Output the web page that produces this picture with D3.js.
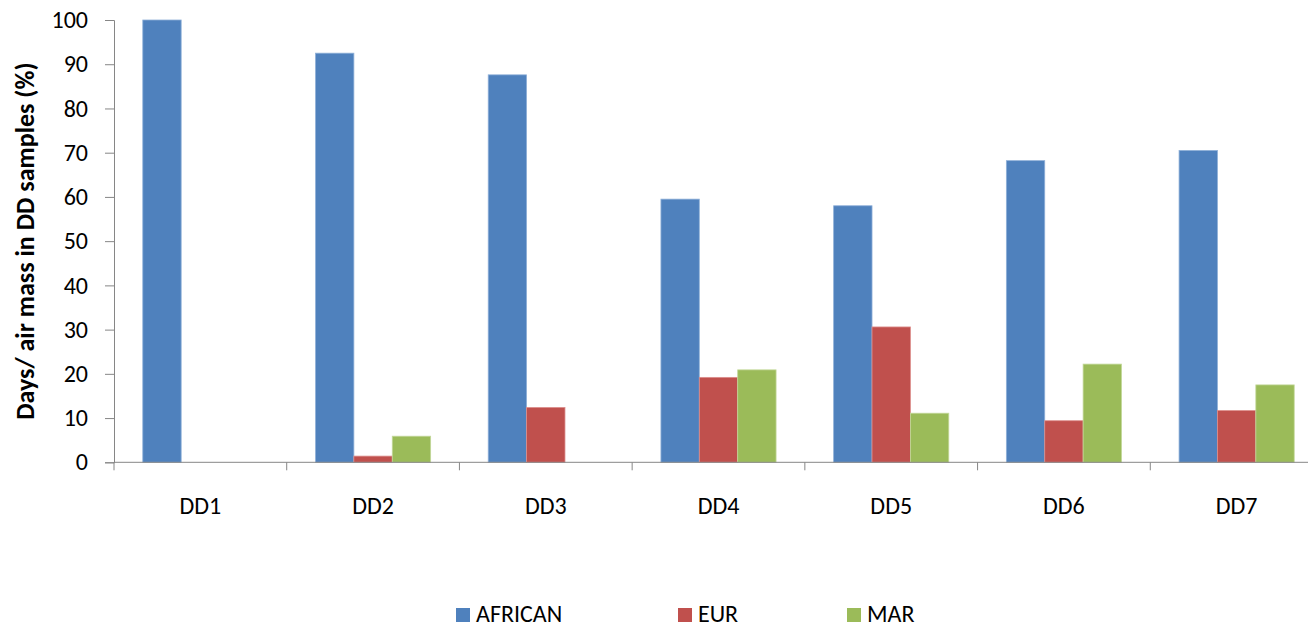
<!DOCTYPE html>
<html>
<head>
<meta charset="utf-8">
<script src="https://cdn.jsdelivr.net/npm/d3@7"></script>
<style>
  body { margin: 0; background: #fff; }
  svg { display: block; font-family: Carlito, Calibri, Lato, sans-serif; }
</style>
</head>
<body>
<svg id="chart"></svg>
<script>
// data
const categories = ['DD1', 'DD2', 'DD3', 'DD4', 'DD5', 'DD6', 'DD7'];
const seriesNames = ['AFRICAN', 'EUR', 'MAR'];
const african = [100, 92.5, 87.6, 59.5, 58.0, 68.2, 70.5];
const eur = [0, 1.4, 12.4, 19.2, 30.6, 9.4, 11.7];
const mar = [0, 5.9, 0, 20.9, 11.1, 22.2, 17.5];
const yTicks = [0, 10, 20, 30, 40, 50, 60, 70, 80, 90, 100];

const colors = ['#4F81BD', '#C0504D', '#9BBB59'];
const strokes = ['#8fb0d8', '#dc8e8c', '#c3d89a'];

const width = 1308, height = 627;
// plot runs a bit past the right edge, like the original
const m = { left: 114, right: 1323, top: 20, bottom: 462.3 };

const svg = d3.select('#chart').attr('width', width).attr('height', height);

const x = d3.scaleBand().domain(categories).range([m.left, m.right]).paddingInner(0).paddingOuter(0);
const bw = x.bandwidth() / 4.5; // gap width 150%
const x1 = d3.scaleBand().domain(seriesNames).range([bw * 0.75, bw * 3.75]);
const y = d3.scaleLinear().domain([0, 100]).range([m.bottom, m.top]);

const table = categories.map((c, i) => ({ cat: c, vals: [african[i], eur[i], mar[i]] }));

// bars
const groups = svg.append('g').selectAll('g')
  .data(table)
  .enter().append('g')
  .attr('transform', d => 'translate(' + x(d.cat) + ',0)');

groups.selectAll('rect')
  .data(d => d.vals.map((v, k) => ({ v: v, k: k })).filter(e => e.v > 0))
  .enter().append('rect')
  .attr('x', d => x1(seriesNames[d.k]))
  .attr('width', x1.bandwidth())
  .attr('y', d => y(d.v))
  .attr('height', d => y(0) - y(d.v))
  .style('fill', d => colors[d.k])
  .style('stroke', d => strokes[d.k])
  .style('stroke-width', 0.8);

// y axis
const yAxis = svg.append('g')
  .attr('transform', 'translate(' + m.left + ',0)')
  .call(d3.axisLeft(y).tickValues(yTicks).tickSize(9).tickPadding(17))
  .attr('font-family', null)
  .attr('font-size', null);
yAxis.selectAll('text').style('font-size', '24px').style('fill', '#000');
yAxis.select('.domain').attr('stroke', '#868686');
yAxis.selectAll('.tick line').attr('stroke', '#868686');

// x axis with ticks between categories
const xAxis = svg.append('g')
  .attr('transform', 'translate(0,' + m.bottom + ')');
xAxis.append('line')
  .attr('x1', m.left).attr('x2', m.right)
  .attr('stroke', '#868686');
xAxis.selectAll('line.tk')
  .data(categories)
  .enter().append('line')
  .attr('class', 'tk')
  .attr('x1', d => x(d)).attr('x2', d => x(d))
  .attr('y1', 0).attr('y2', 8)
  .attr('stroke', '#868686');
xAxis.selectAll('text')
  .data(categories)
  .enter().append('text')
  .attr('x', d => x(d) + x.bandwidth() / 2)
  .attr('y', 52)
  .attr('text-anchor', 'middle')
  .style('font-size', '24px')
  .text(d => d);

// axis title
svg.append('text')
  .attr('transform', 'translate(34,' + ((m.top + m.bottom) / 2) + ')rotate(-90)')
  .attr('text-anchor', 'middle')
  .style('font-size', '26px')
  .style('font-weight', 'bold')
  .text('Days/ air mass in DD samples (%)');

// legend
const legendX = [456, 678, 847];
const legend = svg.append('g').selectAll('g')
  .data(seriesNames)
  .enter().append('g')
  .attr('transform', (d, i) => 'translate(' + legendX[i] + ',608)');
legend.append('rect')
  .attr('width', 14).attr('height', 14)
  .style('fill', (d, i) => colors[i]);
legend.append('text')
  .attr('x', 20).attr('y', 14)
  .style('font-size', '24px')
  .text(d => d);
</script>
</body>
</html>
